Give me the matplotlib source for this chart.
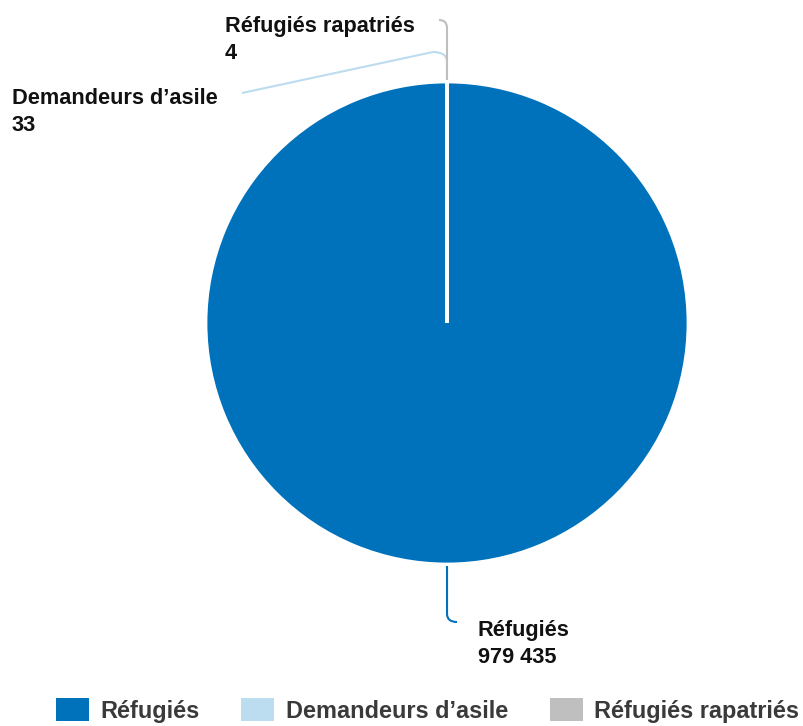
import matplotlib
matplotlib.use("Agg")
import matplotlib.pyplot as plt
from matplotlib.patches import Patch
from matplotlib.path import Path
from matplotlib.patches import PathPatch
import numpy as np

plt.rcParams['font.family'] = ['Liberation Sans', 'DejaVu Sans']

categories = ["Réfugiés", "Demandeurs d’asile", "Réfugiés rapatriés"]
values = [979435, 33, 4]
value_labels = ["979 435", "33", "4"]
colors = ["#0072BC", "#BCDCEF", "#BFBFBF"]

W, H = 804, 726
fig = plt.figure(figsize=(W / 100, H / 100), dpi=100)
ax = fig.add_axes([0, 0, 1, 1])

cx, cy_px, R = 447, 323, 241
cy = H - cy_px

wedges, _ = ax.pie(values, colors=colors, startangle=90, counterclock=False,
                   center=(cx, cy), radius=R,
                   wedgeprops=dict(edgecolor="white", linewidth=2))
ax.set_xlim(0, W)
ax.set_ylim(0, H)
ax.set_aspect("auto")
ax.axis("off")

def py(y_px):
    return H - y_px

# mid angles of slices
mids = [(w.theta1 + w.theta2) / 2 for w in wedges]

def edge_point(theta, gap=2):
    t = np.deg2rad(theta)
    return cx + (R + gap) * np.cos(t), cy + (R + gap) * np.sin(t)

def curve(points, color, lw=1.5, z=3):
    verts = [points[0], points[1], points[2], points[3]]
    codes = [Path.MOVETO, Path.LINETO, Path.CURVE3, Path.CURVE3]
    if len(points) > 4:
        verts.append(points[4])
        codes.append(Path.LINETO)
    ax.add_patch(PathPatch(Path(verts, codes), fill=False, edgecolor=color, lw=lw, zorder=z))

# Réfugiés (bottom)
x0, y0 = edge_point(mids[0])
curve([(x0, y0), (x0, py(614)), (x0, py(622)), (x0 + 10, py(622))], colors[0])
# Demandeurs d'asile (top)
x1, y1 = edge_point(mids[1])
curve([(x1, y1), (x1, py(62)), (x1, py(52)), (x1 - 14, py(52)), (242, py(93))], colors[1], z=3)
# Réfugiés rapatriés (top)
x2, y2 = edge_point(mids[2])
curve([(x2, y2), (x2, py(28)), (x2, py(20)), (x2 - 8, py(20))], colors[2], z=4)

fs = 15.7
ls = 1.42
ax.text(478, py(644), f"{categories[0]}\n{value_labels[0]}", ha="left", va="center",
        fontsize=fs, fontweight="bold", color="#111111", linespacing=ls)
ax.text(12, py(112), f"{categories[1]}\n{value_labels[1]}", ha="left", va="center",
        fontsize=fs, fontweight="bold", color="#111111", linespacing=ls)
ax.text(225, py(40), f"{categories[2]}\n{value_labels[2]}", ha="left", va="center",
        fontsize=fs, fontweight="bold", color="#111111", linespacing=ls)

lfs = 16.9
handles = [Patch(facecolor=c, edgecolor="none") for c in colors]
leg = fig.legend(handles, categories, loc="center left",
                 bbox_to_anchor=(56 / W, 15.5 / H),
                 ncol=3, frameon=False, handlelength=1.41, handleheight=1.07,
                 handletextpad=0.47, columnspacing=1.79, borderpad=0, borderaxespad=0,
                 prop=dict(family="Liberation Sans", weight="bold", size=lfs))
for t in leg.get_texts():
    t.set_color("#3a3a3a")

fig.savefig("out.png", dpi=100)
